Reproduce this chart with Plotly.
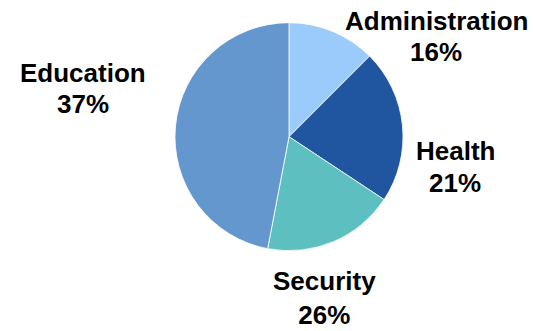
import plotly.graph_objects as go

categories = ["Administration", "Health", "Security", "Education"]
slice_values = [12.5, 21.8, 18.7, 47.0]          # slice sizes as drawn
label_percents = ["16%", "21%", "26%", "37%"]     # percentages printed in the labels
colors = ["#9ACBFA", "#1F569F", "#5DBFC0", "#6497CD"]

W, H = 533, 331
cx, cy, r = 289.0, 136.7, 114.0

fig = go.Figure(go.Pie(
    labels=categories,
    values=slice_values,
    sort=False,
    direction="clockwise",
    rotation=0,
    marker=dict(colors=colors, line=dict(color="white", width=0.8)),
    textinfo="none",
    hoverinfo="label+percent",
    showlegend=False,
    domain=dict(x=[(cx - r) / W, (cx + r) / W],
                y=[(H - cy - r) / H, (H - cy + r) / H]),
))

# (x centre, name line y, percent line y) in pixels from top-left; None = label block sits on bottom edge
label_pos = {
    "Administration": (436, 21, 52),
    "Health": (455, 151, 183),
    "Security": (324, None, None),
    "Education": (83, 73, 104),
}
font = dict(family="Liberation Sans, Arial, Helvetica, sans-serif", size=26, color="black")
for cat, pct in zip(categories, label_percents):
    x, y1, y2 = label_pos[cat]
    if y1 is None:
        fig.add_annotation(
            x=x / W, y=0, xref="paper", yref="paper",
            text=f"<b>{cat}<br>{pct}</b>", showarrow=False,
            xanchor="center", yanchor="bottom", align="center",
            borderpad=0, font=font,
        )
        continue
    for txt, y in ((cat, y1), (pct, y2)):
        fig.add_annotation(
            x=x / W, y=1 - y / H, xref="paper", yref="paper",
            text=f"<b>{txt}</b>", showarrow=False,
            xanchor="center", yanchor="middle", align="center",
            font=font,
        )

fig.update_layout(
    width=W, height=H,
    margin=dict(l=0, r=0, t=0, b=0),
    paper_bgcolor="white", plot_bgcolor="white",
)
fig.write_html("out.html")
